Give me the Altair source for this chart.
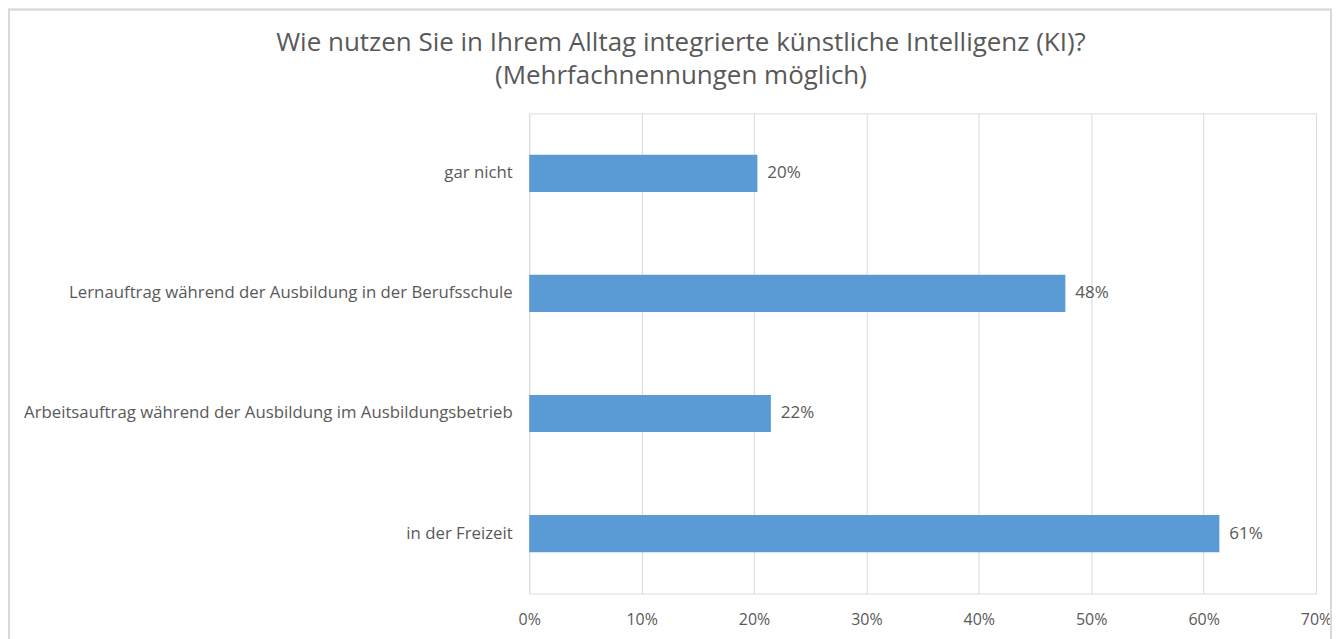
import altair as alt
import pandas as pd

categories = [
    "gar nicht",
    "Lernauftrag während der Ausbildung in der Berufsschule",
    "Arbeitsauftrag während der Ausbildung im Ausbildungsbetrieb",
    "in der Freizeit",
]
values = [0.203, 0.477, 0.215, 0.614]
labels = ["20%", "48%", "22%", "61%"]

df = pd.DataFrame({"cat": categories, "val": values, "lab": labels})

FONT = "Open Sans"
GREY = "#595959"
W, H = 788, 481

x_enc = alt.X(
    "val:Q",
    scale=alt.Scale(domain=[0, 0.7], nice=False),
    axis=alt.Axis(
        format="%", values=[0, 0.1, 0.2, 0.3, 0.4, 0.5, 0.6, 0.7], title=None,
        grid=True, gridColor="#D9D9D9", gridWidth=1, domain=False, ticks=False,
        labelFont=FONT, labelFontSize=16, labelColor=GREY, labelPadding=18,
        labelAlign="center", labelFlush=False,
    ),
)
y_enc = alt.Y(
    "cat:N",
    sort=categories,
    scale=alt.Scale(paddingInner=0.69, paddingOuter=0.345),
    axis=alt.Axis(
        title=None, domain=False, ticks=False, grid=False,
        labelFont=FONT, labelFontSize=16.8, labelColor=GREY, labelPadding=17,
        labelLimit=600,
    ),
)

bars = alt.Chart(df).mark_bar(color="#5B9BD5").encode(x=x_enc, y=y_enc)
text = alt.Chart(df).mark_text(
    align="left", baseline="middle", dx=10, font=FONT, fontSize=17, color=GREY
).encode(x="val:Q", y=alt.Y("cat:N", sort=categories), text="lab:N")

border = alt.Chart(df).mark_rect(
    fill="transparent", stroke="#D9D9D9", strokeWidth=1.5
).encode(
    x=alt.value(-521), x2=alt.value(W + 15), y=alt.value(-104), y2=alt.value(H + 60)
)

chart = (
    alt.layer(border, bars, text)
    .properties(
        width=W, height=H,
        padding={"left": 522, "top": 105, "right": 16, "bottom": 45},
        autosize=alt.AutoSizeParams(type="none"),
        title=alt.TitleParams(
            text=["Wie nutzen Sie in Ihrem Alltag integrierte künstliche Intelligenz (KI)?",
                  "(Mehrfachnennungen möglich)"],
            font=FONT, fontSize=26, fontWeight="normal", color=GREY,
            anchor="middle", frame="group", dx=-242, offset=-80, lineHeight=33,
        ),
    )
    .configure_view(strokeWidth=0)
    .configure(background="white")
)

chart.save("out.html", embed_options={"renderer": "svg", "actions": False})
